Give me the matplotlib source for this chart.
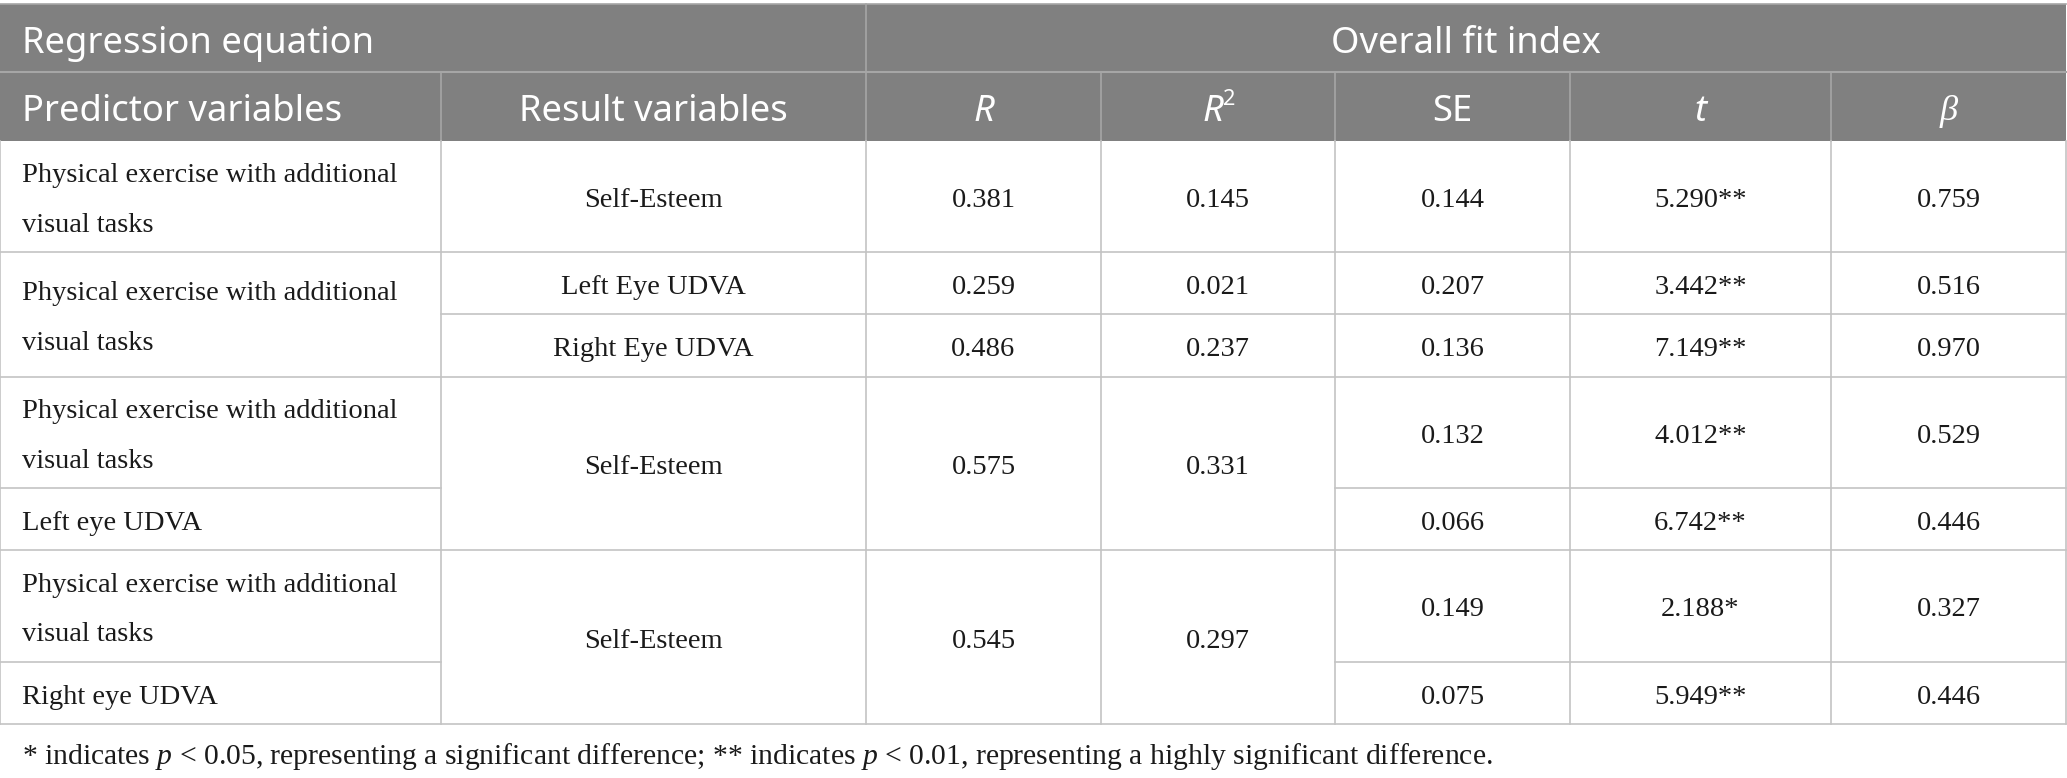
import matplotlib.pyplot as plt
from matplotlib.patches import Rectangle

plt.rcParams['mathtext.fontset'] = 'custom'
plt.rcParams['mathtext.rm'] = 'Liberation Serif'
plt.rcParams['mathtext.it'] = 'Liberation Serif:italic'

# table content, one entry per sub-row; None = merged with the cell above
predictors = ["Physical exercise with additional\nvisual tasks",
              "Physical exercise with additional\nvisual tasks", None,
              "Physical exercise with additional\nvisual tasks", "Left eye UDVA",
              "Physical exercise with additional\nvisual tasks", "Right eye UDVA"]
results = ["Self-Esteem", "Left Eye UDVA", "Right Eye UDVA", "Self-Esteem", None, "Self-Esteem", None]
r_vals = ["0.381", "0.259", "0.486", "0.575", None, "0.545", None]
r2_vals = ["0.145", "0.021", "0.237", "0.331", None, "0.297", None]
se_vals = ["0.144", "0.207", "0.136", "0.132", "0.066", "0.149", "0.075"]
t_vals = ["5.290**", "3.442**", "7.149**", "4.012**", "6.742**", "2.188*", "5.949**"]
beta_vals = ["0.759", "0.516", "0.970", "0.529", "0.446", "0.327", "0.446"]

group_header = ["Regression equation", "Overall fit index"]
col_header = ["Predictor variables", "Result variables", "R", "R", "SE", "t", "β"]
footnote = (r"* indicates $p$ < 0.05, representing a significant difference; "
            r"** indicates $p$ < 0.01, representing a highly significant difference.")

columns = [predictors, results, r_vals, r2_vals, se_vals, t_vals, beta_vals]

# layout (pixels)
W, H = 2067, 778
col_x = [0, 441, 866, 1101, 1335, 1570, 1831, 2066]
row_y = [141, 252, 314, 377, 488, 550, 662, 724]
head_y = [4, 72, 141]
pad = 22

head_bg = '#808080'
head_line = '#a6a6a6'
body_line = '#c4c4c4'
txt = '#1a1a1a'
sans = 'Noto Sans'
serif = 'Liberation Serif'
fs_head = 26.2
fs_body = 20.5

fig = plt.figure(figsize=(W / 100, H / 100), dpi=100)
ax = fig.add_axes([0, 0, 1, 1])
ax.set_xlim(0, W)
ax.set_ylim(H, 0)
ax.axis('off')

# header block
ax.add_patch(Rectangle((0, head_y[0]), col_x[-1], head_y[2] - head_y[0], color=head_bg, lw=0))
ax.plot([0, col_x[-1]], [head_y[0], head_y[0]], color=head_line, lw=1.2)
ax.plot([0, col_x[-1]], [head_y[1], head_y[1]], color=head_line, lw=1.5)
ax.plot([col_x[2], col_x[2]], [head_y[0], head_y[1]], color=head_line, lw=1.2)
for x in col_x[1:-1]:
    ax.plot([x, x], [head_y[1], head_y[2]], color=head_line, lw=1.2)

ym1 = (head_y[0] + head_y[1]) / 2 + 1
ym2 = (head_y[1] + head_y[2]) / 2 + 1
ax.text(pad, ym1, group_header[0], color='white', fontsize=fs_head, family=sans, ha='left', va='center_baseline')
ax.text((col_x[2] + col_x[-1]) / 2, ym1, group_header[1], color='white', fontsize=fs_head, family=sans,
        ha='center', va='center_baseline')
for c, lab in enumerate(col_header):
    cx = (col_x[c] + col_x[c + 1]) / 2
    if c == 0:
        ax.text(pad, ym2, lab, color='white', fontsize=fs_head, family=sans, ha='left', va='center_baseline')
    elif c in (2, 5):
        ax.text(cx, ym2, lab, color='white', fontsize=fs_head, family=sans, style='italic',
                ha='center', va='center_baseline')
    elif c == 3:
        ax.text(cx - 5, ym2, lab, color='white', fontsize=fs_head, family=sans, style='italic',
                ha='center', va='center_baseline')
        ax.text(cx + 5, ym2 - 11, '2', color='white', fontsize=fs_head * 0.6, family=sans,
                ha='left', va='center_baseline')
    elif c == 6:
        ax.text(cx, ym2, lab, color='white', fontsize=fs_head, family=serif, style='italic',
                ha='center', va='center_baseline')
    else:
        ax.text(cx, ym2, lab, color='white', fontsize=fs_head, family=sans, ha='center', va='center_baseline')

# body cells
n = len(row_y) - 1
for c, vals in enumerate(columns):
    i = 0
    while i < n:
        j = i + 1
        while j < n and vals[j] is None:
            j += 1
        if i > 0:
            ax.plot([col_x[c], col_x[c + 1]], [row_y[i], row_y[i]], color=body_line, lw=1.2)
        yc = (row_y[i] + row_y[j]) / 2 + 4
        if c == 0:
            ax.text(pad, yc, vals[i], color=txt, fontsize=fs_body, family=serif, ha='left',
                    va='center', linespacing=2.3)
        else:
            ax.text((col_x[c] + col_x[c + 1]) / 2, yc, vals[i], color=txt, fontsize=fs_body,
                    family=serif, ha='center', va='center')
        i = j

ax.plot([0, col_x[-1]], [row_y[-1], row_y[-1]], color=body_line, lw=1.2)
for x in col_x:
    ax.plot([x, x], [row_y[0], row_y[-1]], color=body_line, lw=1.2)

ax.text(pad, 756, footnote, color=txt, fontsize=21.35, family=serif, ha='left', va='center')

fig.savefig('out.png', dpi=100, facecolor='white')
